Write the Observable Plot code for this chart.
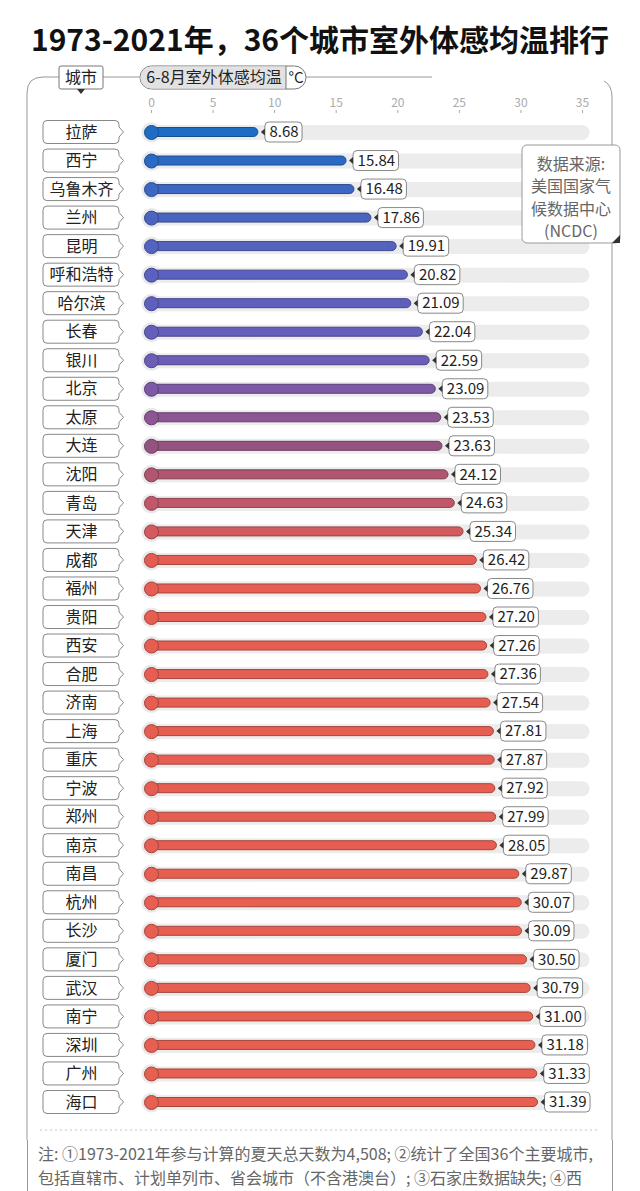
<!DOCTYPE html>
<html><head><meta charset="utf-8">
<script src="https://cdn.jsdelivr.net/npm/d3@7"></script>
<script src="https://cdn.jsdelivr.net/npm/@observablehq/plot@0.6"></script>
<style>
body{margin:0;background:#fff;font-family:'Noto Sans CJK SC',sans-serif;}
#title{height:42px;padding-top:18px;line-height:40px;text-align:center;font-size:30px;font-weight:700;color:#111;white-space:nowrap;}
#chart svg{display:block}
#note{margin-left:27px;width:586px;height:51px;border-left:1px solid #999;border-right:1px solid #999;box-sizing:border-box;padding:1px 0 0 10px;font-size:16px;line-height:24px;color:#666;overflow:hidden;white-space:nowrap}
</style></head><body>
<div id="title"></div>
<div id="chart"></div>
<div id="note"></div>
<script>
const titleText = "1973-2021年，36个城市室外体感均温排行";
const cities = ["拉萨","西宁","乌鲁木齐","兰州","昆明","呼和浩特","哈尔滨","长春","银川","北京","太原","大连","沈阳","青岛","天津","成都","福州","贵阳","西安","合肥","济南","上海","重庆","宁波","郑州","南京","南昌","杭州","长沙","厦门","武汉","南宁","深圳","广州","海口"];
const temps = [8.68,15.84,16.48,17.86,19.91,20.82,21.09,22.04,22.59,23.09,23.53,23.63,24.12,24.63,25.34,26.42,26.76,27.20,27.26,27.36,27.54,27.81,27.87,27.92,27.99,28.05,29.87,30.07,30.09,30.50,30.79,31.00,31.18,31.33,31.39];
const xTicks = [0,5,10,15,20,25,30,35];
const headerCity = "城市";
const headerMeasure = "6-8月室外体感均温";
const headerUnit = "°C";
const sourceLines = ["数据来源:","美国国家气","候数据中心","(NCDC)"];
const noteLines = ["注: ①1973-2021年参与计算的夏天总天数为4,508; ②统计了全国36个主要城市,","包括直辖市、计划单列市、省会城市（不含港澳台）; ③石家庄数据缺失; ④西"];
const barColors = ["#1d6dc6","#2b6ac4","#3d67c2","#4a64c0","#5563c0","#5a61c0","#5f60be","#655fbc","#6c5db8","#7d5aa6","#8b5692","#955380","#b0566f","#c0586a","#d15b5f","#e35d52","#e55e51","#e55e51","#e55e51","#e55e51","#e55e51","#e55e51","#e55e51","#e55e51","#e55e51","#e55e51","#e65f50","#e65f50","#e65f50","#e65f50","#e65f50","#e65f50","#e65f50","#e65f50","#e65f50"];

const rows = cities.map((c, i) => ({city: c, temp: temps[i], color: barColors[i], edge: d3.color(barColors[i]).darker(0.9).formatHex()}));

document.getElementById("title").textContent = titleText;
document.getElementById("note").innerHTML = noteLines.map(l => `<div>${l}</div>`).join("");

const FONT = "'Noto Sans CJK SC', sans-serif";
const ctx = document.createElement("canvas").getContext("2d");
ctx.font = "15px " + FONT;
const fmt = v => v.toFixed(2);

function bandCenter(sy, c) {
  const bw = typeof sy.bandwidth === "function" ? sy.bandwidth() : 0;
  return sy(c) + bw / 2;
}

// decorations: frame, header, dotted separator
function decorations(index, scales, values, dims) {
  const g = d3.create("svg:g");
  const H = dims.height;
  g.append("path").attr("fill", "none").attr("stroke", "#999").attr("stroke-width", 1)
    .attr("d", `M27,${H} V33 Q27,17 43,17 H59 M103,17 H140 M306,17 H432 M604,21 Q612,25 612,37 V${H}`);
  g.append("rect").attr("x", 59).attr("y", 6).attr("width", 44).attr("height", 23).attr("rx", 2)
    .attr("fill", "#fff").attr("stroke", "#777");
  g.append("path").attr("d", "M77,29 L85,29 L81,34 Z").attr("fill", "#333");
  g.append("text").attr("x", 81).attr("y", 17.5).attr("text-anchor", "middle").attr("dy", "0.36em")
    .attr("font-size", 16).attr("fill", "#222").text(headerCity);
  g.append("rect").attr("x", 140).attr("y", 6).attr("width", 166).attr("height", 23).attr("rx", 11.5)
    .attr("fill", "#fff").attr("stroke", "#777");
  g.append("path").attr("d", "M286,6.5 H151.5 A11,11 0 0 0 151.5,28.5 H286 Z").attr("fill", "#e2e2e2");
  g.append("path").attr("d", "M286,6 V29").attr("stroke", "#777");
  g.append("text").attr("x", 214).attr("y", 17.5).attr("text-anchor", "middle").attr("dy", "0.36em")
    .attr("font-size", 16).attr("fill", "#222").text(headerMeasure);
  g.append("text").attr("x", 296).attr("y", 17.5).attr("text-anchor", "middle").attr("dy", "0.36em")
    .attr("font-size", 15).attr("fill", "#222").text(headerUnit);
  g.append("path").attr("d", "M40,1070 H600").attr("stroke", "#c4c4c4").attr("stroke-dasharray", "2,3");
  return g.node();
}

// data source note box (drawn on top of the tracks)
function sourceBox() {
  const g = d3.create("svg:g");
  g.append("rect").attr("x", 522).attr("y", 85).attr("width", 98).attr("height", 98).attr("rx", 5)
    .attr("fill", "#fff").attr("stroke", "#999");
  g.append("path").attr("d", "M620,175 L620,183 L612,183 Z").attr("fill", "#333");
  sourceLines.forEach((t, i) => {
    g.append("text").attr("x", 571).attr("y", 104 + i * 22.5).attr("text-anchor", "middle").attr("dy", "0.36em")
      .attr("font-size", 16).attr("fill", "#666").text(t);
  });
  return g.node();
}

function cityBoxes(index, scales) {
  const g = d3.create("svg:g");
  for (const r of rows) {
    const yc = bandCenter(scales.y, r.city);
    const t = yc - 11.5, b = yc + 11.5;
    g.append("path").attr("fill", "#fff").attr("stroke", "#888").attr("stroke-width", 1)
      .attr("d", `M47,${t} H115 Q119,${t} 119,${t + 4} V${yc - 5} L123.5,${yc} L119,${yc + 5} V${b - 4} Q119,${b} 115,${b} H47 Q43,${b} 43,${b - 4} V${t + 4} Q43,${t} 47,${t} Z`);
  }
  return g.node();
}

function valueBoxes(index, scales) {
  const g = d3.create("svg:g");
  for (const r of rows) {
    const yc = bandCenter(scales.y, r.city);
    const x0 = scales.x(r.temp);
    const w = ctx.measureText(fmt(r.temp)).width + 8;
    g.append("rect").attr("x", x0 + 7).attr("y", yc - 10).attr("width", w).attr("height", 20).attr("rx", 4)
      .attr("fill", "#fff").attr("stroke", "#888");
    g.append("path").attr("d", `M${x0 + 3},${yc} L${x0 + 7},${yc - 3.5} L${x0 + 7},${yc + 3.5} Z`).attr("fill", "#333");
  }
  return g.node();
}

const yRange = [57.74, 1056.26];
const bw = (yRange[1] - yRange[0]) / cities.length;
const inset = (bw - 9) / 2;

const chart = Plot.plot({
  width: 640,
  height: 1080,
  marginTop: 52,
  marginBottom: 0,
  marginLeft: 151,
  marginRight: 58,
  style: {fontFamily: FONT, background: "#fff", overflow: "visible"},
  x: {domain: [0, 35], range: [151, 582]},
  y: {type: "band", domain: cities, range: yRange, padding: 0, round: false, axis: null},
  color: {type: "identity"},
  marks: [
    decorations,
    Plot.ruleY(rows, {y: "city", x1: 0, x2: 35, stroke: "#ececec", strokeWidth: 15, strokeLinecap: "round"}),
    Plot.dot(rows, {y: "city", x: 0, r: 10, fill: "#e9e9ec"}),
    sourceBox,
    Plot.barX(rows, {y: "city", x1: 0, x2: "temp", fill: "color", stroke: "edge", strokeWidth: 1, rx: 4.5, insetTop: inset, insetBottom: inset}),
    Plot.dot(rows, {y: "city", x: 0, r: 7, fill: "color", stroke: "edge", strokeWidth: 1}),
    valueBoxes,
    Plot.text(rows, {y: "city", x: "temp", text: d => fmt(d.temp), dx: 11, textAnchor: "start", fontSize: 15, fill: "#222"}),
    cityBoxes,
    Plot.text(rows, {y: "city", frameAnchor: "left", dx: -70, textAnchor: "middle", text: "city", fontSize: 16, fill: "#222"}),
    Plot.axisX({ticks: xTicks, anchor: "top", tickSize: 3, tickPadding: 3, fontSize: 12, color: "#aaa", label: null})
  ]
});
document.getElementById("chart").appendChild(chart);
</script>
</body></html>
